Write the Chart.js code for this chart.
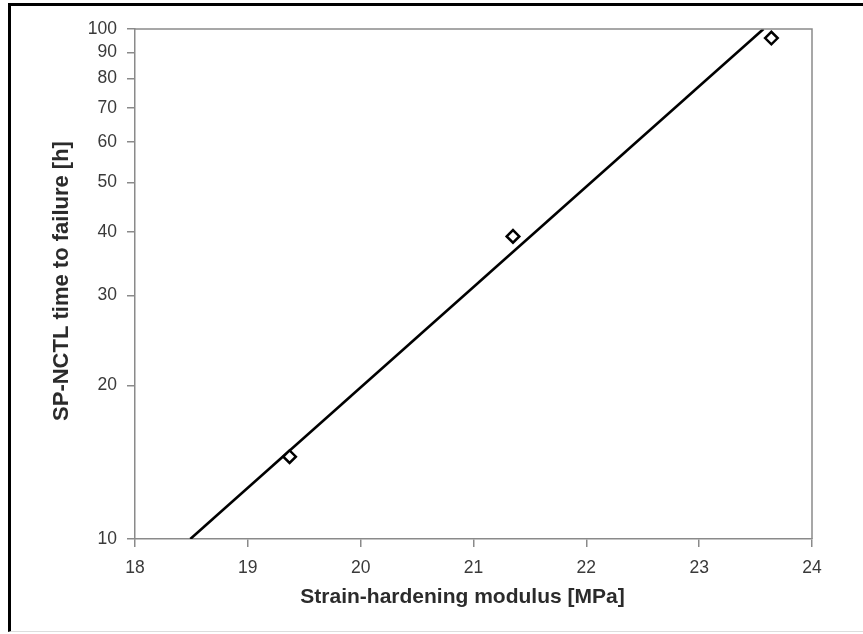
<!DOCTYPE html>
<html>
<head>
<meta charset="utf-8">
<script src="https://cdn.jsdelivr.net/npm/chart.js@4.4.1/dist/chart.umd.min.js"></script>
<style>
  html, body { margin: 0; padding: 0; background: #fff; }
  #frame {
    position: absolute; left: 8px; top: 3px;
    width: 900px; height: 625px;
    border-left: 3px solid #000;
    border-top: 3px solid #000;
    border-bottom: 1px solid #ddd;
  }
  #wrap { position: absolute; left: 0; top: 0; width: 863px; height: 634px; }
</style>
</head>
<body>
<div id="frame"></div>
<div id="wrap"><canvas id="chart" width="863" height="634"></canvas></div>
<script>
// Measured points (strain-hardening modulus vs. time to failure)
const modulus = [19.37, 21.35, 23.64];
const failureTime = [14.5, 39.2, 96];

// Fitted trend line end points
const fitModulus = [18.49, 23.57];
const fitTime = [10, 100];

// Axis ticks
const xTicks = [18, 19, 20, 21, 22, 23, 24];
const yTicks = [10, 20, 30, 40, 50, 60, 70, 80, 90, 100];

const xTitle = 'Strain-hardening modulus [MPa]';
const yTitle = 'SP-NCTL time to failure [h]';

const FONT = "'Liberation Sans', Arial, sans-serif";
const AXIS_GRAY = '#8a8a8a';

// Top/right plot frame + axis titles
const plotFrame = {
    id: 'plotFrame',
    afterDraw: (chart) => {
        const { ctx, chartArea: a } = chart;
        ctx.save();
        ctx.strokeStyle = AXIS_GRAY;
        ctx.lineWidth = 1.5;
        ctx.beginPath();
        ctx.moveTo(a.left, a.top);
        ctx.lineTo(a.right, a.top);
        ctx.lineTo(a.right, a.bottom);
        ctx.stroke();

        ctx.fillStyle = '#2b2b2b';
        ctx.textAlign = 'center';
        ctx.textBaseline = 'middle';
        ctx.font = 'bold 21px ' + FONT;
        ctx.fillText(xTitle, (a.left + a.right) / 2 - 11, a.bottom + 58);

        ctx.font = 'bold 22px ' + FONT;
        ctx.translate(a.left - 73, (a.top + a.bottom) / 2 - 3);
        ctx.rotate(-Math.PI / 2);
        ctx.fillText(yTitle, 0, 0);
        ctx.restore();
    }
};

const ctx = document.getElementById('chart').getContext('2d');
new Chart(ctx, {
    type: 'scatter',
    plugins: [plotFrame],
    data: {
        datasets: [
            {
                label: 'Fit',
                data: fitModulus.map((x, i) => ({ x, y: fitTime[i] })),
                showLine: true,
                borderColor: '#000',
                borderWidth: 2.6,
                pointRadius: 0,
                order: 2
            },
            {
                label: 'Measured',
                data: modulus.map((x, i) => ({ x, y: failureTime[i] })),
                pointStyle: 'rectRot',
                pointRadius: 6.3,
                pointBorderWidth: 2.5,
                pointBorderColor: '#000',
                pointBackgroundColor: '#fff',
                order: 1
            }
        ]
    },
    options: {
        responsive: false,
        animation: false,
        layout: { padding: { top: 29, right: 51, left: 0, bottom: 0 } },
        plugins: { legend: { display: false }, tooltip: { enabled: false } },
        scales: {
            x: {
                type: 'linear',
                min: 18,
                max: 24,
                afterFit: (scale) => { scale.height = 95; },
                afterBuildTicks: (scale) => { scale.ticks = xTicks.map(v => ({ value: v })); },
                ticks: {
                    callback: (v) => String(v),
                    color: '#3a3a3a',
                    font: { family: FONT, size: 17.5 },
                    padding: 11
                },
                grid: { drawOnChartArea: false, tickLength: 8, color: AXIS_GRAY, lineWidth: 1.5 },
                border: { color: AXIS_GRAY, width: 1.5 }
            },
            y: {
                type: 'logarithmic',
                min: 10,
                max: 100,
                afterFit: (scale) => { scale.width = 135; },
                afterBuildTicks: (scale) => { scale.ticks = yTicks.map(v => ({ value: v })); },
                ticks: {
                    callback: (v) => String(v),
                    color: '#3a3a3a',
                    font: { family: FONT, size: 17.5 },
                    padding: 10
                },
                grid: { drawOnChartArea: false, tickLength: 8, color: AXIS_GRAY, lineWidth: 1.5 },
                border: { color: AXIS_GRAY, width: 1.5 }
            }
        }
    }
});
</script>
</body>
</html>
